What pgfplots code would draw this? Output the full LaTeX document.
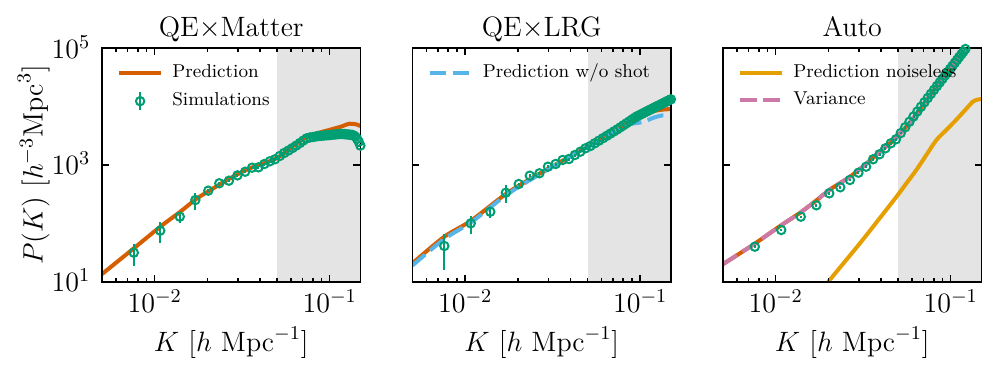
\documentclass[border=0pt]{standalone}
\usepackage{fix-cm}
\usepackage{pgfplots}
\usepackage{pgfplotstable}
\pgfplotsset{compat=1.18}

\definecolor{cPred}{HTML}{D55E00}
\definecolor{cSim}{HTML}{009E73}
\definecolor{cShot}{HTML}{56B4E9}
\definecolor{cNoise}{HTML}{E69F00}
\definecolor{cVar}{HTML}{CC79A7}
\definecolor{cShade}{RGB}{228,228,228}

\newcommand{\bigfont}{\fontsize{14}{16}\selectfont}
\newcommand{\legfont}{\fontsize{9.3}{11}\selectfont}

% simulations: k, P, error
\pgfplotstableread{
k p e
0.0076 31.4 12.5
0.01076 74.8 29
0.01392 130 27
0.01708 251 82
0.02024 363 22
0.0234 486 29
0.02656 538 32
0.02972 664 40
0.03288 767 46
0.03604 899 54
0.0392 912 55
0.04236 1040 62
0.04552 1157 69
0.04868 1253 75
0.05184 1426 70
0.055 1607 80
0.05816 1772 90
0.06132 1954 100
0.06448 2157 100
0.06764 2382 110
0.0708 2630 120
0.07396 2870 130
0.07712 2960 130
0.08028 3020 130
0.08344 3080 130
0.0866 3140 130
0.08976 3170 130
0.09292 3200 130
0.09608 3230 130
0.09924 3240 130
0.1024 3300 130
0.10556 3320 130
0.10872 3350 130
0.11188 3380 130
0.11504 3400 130
0.1182 3400 130
0.12136 3380 130
0.12452 3350 130
0.12768 3330 130
0.13084 3300 130
0.134 3280 130
0.13716 3200 130
0.14032 3050 130
0.14348 2800 120
0.14664 2500 110
0.1498 2150 100
}\simmatter

\pgfplotstableread{
k p e
0.0076 40.9 25
0.01076 100 34
0.01392 158 36
0.01708 335 114
0.02024 472 28
0.0234 656 39
0.02656 721 43
0.02972 935 56
0.03288 1040 62
0.03604 1218 73
0.0392 1267 76
0.04236 1484 89
0.04552 1690 100
0.04868 1932 110
0.05184 2110 110
0.055 2357 120
0.05816 2614 130
0.06132 2883 140
0.06448 3163 150
0.06764 3455 160
0.0708 3761 170
0.07396 4075 180
0.07712 4430 190
0.08028 4800 200
0.08344 5186 210
0.0866 5586 220
0.08976 6000 230
0.09292 6432 250
0.09608 6840 260
0.09924 7180 280
0.1024 7530 290
0.10556 7890 300
0.10872 8250 320
0.11188 8620 330
0.11504 8990 350
0.1182 9370 360
0.12136 9750 380
0.12452 10130 390
0.12768 10510 400
0.13084 10900 420
0.134 11300 430
0.13716 11700 450
0.14032 12110 460
0.14348 12520 480
0.14664 12940 500
0.1498 13360 510
}\simlrg

\pgfplotstableread{
k p e
0.0076 39.8 2
0.01076 76.9 4
0.01392 130 6
0.01708 204 10
0.02024 327 16
0.0234 415 20
0.02656 553 27
0.02972 738 36
0.03288 935 46
0.03604 1253 62
0.0392 1525 75
0.04236 1932 95
0.04552 2354 115
0.04868 2755 135
0.05184 3521 170
0.055 4435 220
0.05816 5515 270
0.06132 6777 330
0.06448 8246 400
0.06764 9938 490
0.0708 11874 580
0.07396 14080 690
0.07712 16575 810
0.08028 19384 950
0.08344 22536 1100
0.0866 26035 1280
0.08976 29950 1470
0.09292 34280 1680
0.09608 39060 1910
0.09924 44330 2170
0.1024 50060 2450
0.10556 56390 2760
0.10872 63250 3100
0.11188 70750 3470
0.11504 78850 3860
0.1182 87600 4290
0.12136 97100 4760
0.12452 107400 5260
0.12768 118400 5800
0.13084 130300 6380
0.134 143000 7000
0.13716 157000 7700
0.14032 172000 8400
0.14348 188000 9200
0.14664 205000 10000
0.1498 223000 10900
}\simauto

\begin{document}
\begin{tikzpicture}
\useasboundingbox (-51pt,-45.65pt) rectangle (447.5pt,140.85pt);

% ---- QE x Matter ----
\begin{loglogaxis}[at={(0pt,0pt)},
  scale only axis, width=129.25pt, height=116.7pt,
  xmin=0.005, xmax=0.15, ymin=10, ymax=1e5,
  xtick={0.01,0.1}, ytick={10,1000,100000},
  minor xtick={0.005,0.006,0.007,0.008,0.009,0.02,0.03,0.04,0.05,0.06,0.07,0.08,0.09},
  tick align=inside, major tick length=3.5pt, minor tick length=2pt,
  tick style={black, line width=0.8pt}, axis line style={line width=0.9pt},
  axis on top,
  tick label style={font=\bigfont, inner sep=0pt},
  x tick label style={anchor=base, yshift=-15.5pt},
  y tick label style={anchor=base east, xshift=-5.7pt, yshift=-5pt},
  every axis title/.style={font=\bigfont, at={(axis description cs:0.5,1.0497)}, anchor=base, inner sep=0pt},
  xlabel style={font=\bigfont, at={(axis description cs:0.5,-0.2999)}, anchor=base, inner sep=0pt},
  ylabel style={font=\bigfont, at={(axis description cs:-0.2294,0.5)}, anchor=base, inner sep=0pt},
  legend style={at={(axis description cs:0.057,0.932)}, anchor=north west,
    draw=none, fill=none, font=\legfont, inner sep=0pt, row sep=4.8pt, column sep=4.6pt,
    nodes={inner sep=0pt, text height=6.6pt, text depth=1.9pt}},
  legend cell align=left,
  title={QE$\times$Matter},
  xlabel={$K\ [h\ \mathrm{Mpc}^{-1}]$},
  ylabel={$P(K)\ [h^{-3}\mathrm{Mpc}^3]$}]
\addplot[fill=cShade, draw=none, forget plot] coordinates {(0.05,1) (1,1) (1,1e7) (0.05,1e7)} -- cycle;
\addplot[cPred, line width=2pt, line join=round, smooth, forget plot] coordinates {
  (0.005,13.5) (0.0076,37.3) (0.01077,87.6) (0.014,158) (0.01727,261)
  (0.02056,363) (0.02697,591) (0.03505,877) (0.0497,1303) (0.06,2000)
  (0.0737,2985) (0.085,3500) (0.0991,3980) (0.115,4500) (0.13,5100)
  (0.1443,4900) (0.15,4600)};
\addplot[cSim, only marks, mark=o, mark size=2.1pt, line width=1pt, forget plot,
  error bars/.cd, y dir=both, y explicit, error mark=none,
  error bar style={line width=1pt}]
  table[x=k, y=p, y error=e] {\simmatter};
\addlegendimage{legend image code/.code={
  \draw[cPred, line width=2pt] (0pt,0pt) -- (21pt,0pt);}}
\addlegendentry{Prediction}
\addlegendimage{legend image code/.code={
  \draw[cSim, line width=1pt] (10.5pt,-4.5pt) -- (10.5pt,4.5pt);
  \draw[cSim, line width=1pt] (10.5pt,0pt) circle (2.1pt);
  \path[draw=none, fill=none] (0pt,0pt) rectangle (21pt,0.1pt);}}
\addlegendentry{Simulations}
\end{loglogaxis}

% ---- QE x LRG ----
\begin{loglogaxis}[at={(155.25pt,0pt)},
  scale only axis, width=129.25pt, height=116.7pt,
  xmin=0.005, xmax=0.15, ymin=10, ymax=1e5,
  xtick={0.01,0.1}, ytick={10,1000,100000}, yticklabels={},
  minor xtick={0.005,0.006,0.007,0.008,0.009,0.02,0.03,0.04,0.05,0.06,0.07,0.08,0.09},
  tick align=inside, major tick length=3.5pt, minor tick length=2pt,
  tick style={black, line width=0.8pt}, axis line style={line width=0.9pt},
  axis on top,
  tick label style={font=\bigfont, inner sep=0pt},
  x tick label style={anchor=base, yshift=-15.5pt},
  every axis title/.style={font=\bigfont, at={(axis description cs:0.5,1.0497)}, anchor=base, inner sep=0pt},
  xlabel style={font=\bigfont, at={(axis description cs:0.5,-0.2999)}, anchor=base, inner sep=0pt},
  legend style={at={(axis description cs:0.057,0.932)}, anchor=north west,
    draw=none, fill=none, font=\legfont, inner sep=0pt, row sep=4.8pt, column sep=4.6pt,
    nodes={inner sep=0pt, text height=6.6pt, text depth=1.9pt}},
  legend cell align=left,
  title={QE$\times$LRG},
  xlabel={$K\ [h\ \mathrm{Mpc}^{-1}]$}]
\addplot[fill=cShade, draw=none, forget plot] coordinates {(0.05,1) (1,1) (1,1e7) (0.05,1e7)} -- cycle;
\addplot[cPred, line width=2pt, line join=round, smooth, forget plot] coordinates {
  (0.005,20.7) (0.0076,59) (0.0108,111) (0.0173,327) (0.0268,721)
  (0.0494,2010) (0.0731,3900) (0.08,4700) (0.1,6800) (0.12,8400)
  (0.135,8900) (0.15,9100)};
\addplot[cShot, line width=2pt, line join=round, smooth, dash pattern=on 8.3pt off 3.3pt, forget plot] coordinates {
  (0.005,19) (0.0076,54) (0.0108,104) (0.0173,310) (0.0268,700)
  (0.0494,1990) (0.0731,3850) (0.08,4600) (0.09,5100) (0.1,5350)
  (0.108,5700) (0.12,6500) (0.135,7100) (0.15,6900)};
\addplot[cSim, only marks, mark=o, mark size=2.1pt, line width=1pt, forget plot,
  error bars/.cd, y dir=both, y explicit, error mark=none,
  error bar style={line width=1pt}]
  table[x=k, y=p, y error=e] {\simlrg};
\addlegendimage{legend image code/.code={
  \draw[cShot, line width=2pt, dash pattern=on 8.3pt off 3.3pt] (0pt,0pt) -- (21pt,0pt);}}
\addlegendentry{Prediction w/o shot}
\end{loglogaxis}

% ---- Auto ----
\begin{loglogaxis}[at={(310.5pt,0pt)},
  scale only axis, width=129.25pt, height=116.7pt,
  xmin=0.005, xmax=0.15, ymin=10, ymax=1e5,
  xtick={0.01,0.1}, ytick={10,1000,100000}, yticklabels={},
  minor xtick={0.005,0.006,0.007,0.008,0.009,0.02,0.03,0.04,0.05,0.06,0.07,0.08,0.09},
  tick align=inside, major tick length=3.5pt, minor tick length=2pt,
  tick style={black, line width=0.8pt}, axis line style={line width=0.9pt},
  axis on top,
  tick label style={font=\bigfont, inner sep=0pt},
  x tick label style={anchor=base, yshift=-15.5pt},
  every axis title/.style={font=\bigfont, at={(axis description cs:0.5,1.0497)}, anchor=base, inner sep=0pt},
  xlabel style={font=\bigfont, at={(axis description cs:0.5,-0.2999)}, anchor=base, inner sep=0pt},
  legend style={at={(axis description cs:0.057,0.932)}, anchor=north west,
    draw=none, fill=none, font=\legfont, inner sep=0pt, row sep=4.8pt, column sep=4.6pt,
    nodes={inner sep=0pt, text height=6.6pt, text depth=1.9pt}},
  legend cell align=left,
  title={Auto},
  xlabel={$K\ [h\ \mathrm{Mpc}^{-1}]$}]
\addplot[fill=cShade, draw=none, forget plot] coordinates {(0.05,1) (1,1) (1,1e7) (0.05,1e7)} -- cycle;
\addplot[cPred, line width=2pt, line join=round, smooth, forget plot] coordinates {
  (0.005,20) (0.0075,43.7) (0.0106,90) (0.0138,152) (0.0172,251)
  (0.0205,383) (0.0266,631) (0.0332,1070) (0.04,1750) (0.045,2350)
  (0.05,3150) (0.06,5900) (0.07,11000) (0.08,19000) (0.09,30500)
  (0.1,46000) (0.11,66000) (0.12,93000) (0.13,127000) (0.15,225000)};
\addplot[cVar, line width=2pt, line join=round, smooth, dash pattern=on 8.3pt off 3.3pt, forget plot] coordinates {
  (0.005,20) (0.0075,43.7) (0.0106,90) (0.0138,152) (0.0172,251)
  (0.0205,383) (0.0266,631) (0.0332,1070) (0.04,1750) (0.045,2350)
  (0.05,3150) (0.06,5900) (0.07,11000) (0.08,19000) (0.09,30500)
  (0.1,46000) (0.11,66000) (0.12,93000) (0.13,127000) (0.15,225000)};
\addplot[cNoise, line width=2pt, line join=round, smooth, forget plot] coordinates {
  (0.018,6.5) (0.02,10) (0.0303,45.5) (0.04,131) (0.049,286) (0.056,490)
  (0.0636,820) (0.073,1520) (0.0829,2680) (0.095,4065) (0.1073,5900)
  (0.12,8510) (0.1337,12160) (0.14,13000) (0.146,13370) (0.15,13400)};
\addplot[cSim, only marks, mark=o, mark size=2.1pt, line width=1pt, forget plot,
  error bars/.cd, y dir=both, y explicit, error mark=none,
  error bar style={line width=1pt}]
  table[x=k, y=p, y error=e] {\simauto};
\addlegendimage{legend image code/.code={
  \draw[cNoise, line width=2pt] (0pt,0pt) -- (21pt,0pt);}}
\addlegendentry{Prediction noiseless}
\addlegendimage{legend image code/.code={
  \draw[cVar, line width=2pt, dash pattern=on 8.3pt off 3.3pt] (0pt,0pt) -- (21pt,0pt);}}
\addlegendentry{Variance}
\end{loglogaxis}
\end{tikzpicture}
\end{document}
